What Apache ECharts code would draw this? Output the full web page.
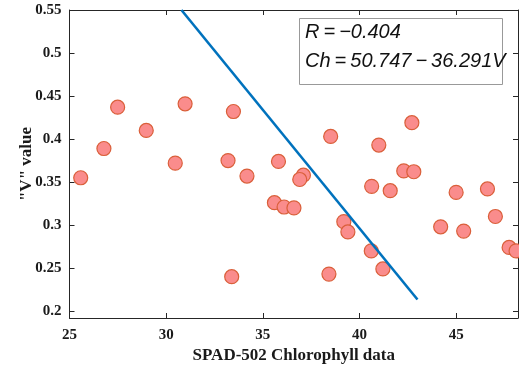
<!DOCTYPE html>
<html>
<head>
<meta charset="utf-8">
<script src="https://cdn.jsdelivr.net/npm/echarts@6/dist/echarts.min.js"></script>
<style>
html,body{margin:0;padding:0;background:#fff;}
#chart{width:519px;height:369px;}
</style>
</head>
<body>
<div id="chart"></div>
<script>
// SPAD-502 chlorophyll readings (x) and "V" values (y)
var chlorophyll = [25.58, 26.78, 27.49, 28.97, 30.98, 30.47,
  33.48, 33.20, 34.18, 35.81, 38.51, 37.10, 36.91,
  42.71, 41.00, 42.29, 42.81, 40.63, 41.59, 45.00, 46.62,
  35.60, 36.10, 36.61, 33.39, 38.42, 39.19, 39.40,
  40.61, 41.21, 44.20, 45.39, 47.03, 47.74, 48.10];
var vValue = [0.355, 0.389, 0.437, 0.410, 0.441, 0.372,
  0.432, 0.375, 0.357, 0.374, 0.403, 0.358, 0.353,
  0.419, 0.393, 0.363, 0.362, 0.345, 0.340, 0.338, 0.342,
  0.326, 0.321, 0.320, 0.240, 0.243, 0.304, 0.292,
  0.270, 0.249, 0.298, 0.293, 0.310, 0.274, 0.270];
// Fitted line Ch = 50.747 - 36.291V, drawn between these end points
var fitX = [30.79, 43.0];
var fitY = [0.55, 0.2135];
var xTicks = [25, 30, 35, 40, 45];
var yTicks = [0.2, 0.25, 0.3, 0.35, 0.4, 0.45, 0.5, 0.55];
var statsLines = ['R\u2009=\u2009\u22120.404', 'Ch\u2009=\u200950.747\u2009\u2212\u200936.291V'];

var points = chlorophyll.map(function (x, i) { return [x, vValue[i]]; });
var fitLine = fitX.map(function (x, i) { return [x, fitY[i]]; });

var axisColor = '#262626';
var labelFont = {fontFamily: 'Liberation Serif', fontWeight: 'bold', fontSize: 15, color: '#1a1a1a'};

var chart = echarts.init(document.getElementById('chart'));
chart.setOption({
  animation: false,
  backgroundColor: '#fff',
  grid: {left: 69.5, right: 1, top: 10, bottom: 49},
  xAxis: [{
    type: 'value', min: 25, max: 48.2, position: 'bottom',
    axisLine: {show: true, lineStyle: {color: axisColor, width: 1}},
    axisTick: {show: true, inside: true, length: 5, customValues: xTicks, lineStyle: {color: axisColor}},
    axisLabel: Object.assign({customValues: xTicks, margin: 10}, labelFont),
    splitLine: {show: false},
    name: 'SPAD-502 Chlorophyll data', nameLocation: 'middle', nameGap: 29, nameMoveOverlap: false,
    nameTextStyle: {fontFamily: 'Liberation Serif', fontWeight: 'bold', fontSize: 17, color: '#1a1a1a'}
  }, {
    type: 'value', min: 25, max: 48.2, position: 'top',
    axisLine: {show: true, lineStyle: {color: axisColor, width: 1}},
    axisTick: {show: true, inside: true, length: 5, customValues: xTicks, lineStyle: {color: axisColor}},
    axisLabel: {show: false}, splitLine: {show: false}
  }],
  yAxis: [{
    type: 'value', min: 0.192, max: 0.55, position: 'left',
    axisLine: {show: true, lineStyle: {color: axisColor, width: 1}},
    axisTick: {show: true, inside: true, length: 5, customValues: yTicks, lineStyle: {color: axisColor}},
    axisLabel: Object.assign({customValues: yTicks, margin: 8}, labelFont),
    splitLine: {show: false},
    name: '"V" value', nameLocation: 'middle', nameGap: 34, nameMoveOverlap: false,
    nameTextStyle: {fontFamily: 'Liberation Serif', fontWeight: 'bold', fontSize: 17, color: '#1a1a1a'}
  }, {
    type: 'value', min: 0.192, max: 0.55, position: 'right',
    axisLine: {show: true, lineStyle: {color: axisColor, width: 1}},
    axisTick: {show: true, inside: true, length: 5, customValues: yTicks, lineStyle: {color: axisColor}},
    axisLabel: {show: false}, splitLine: {show: false}
  }],
  series: [{
    type: 'scatter', data: points, symbol: 'circle', symbolSize: 14,
    itemStyle: {color: '#FA8C8C', borderColor: '#DA5F3A', borderWidth: 1.2, opacity: 1},
    z: 3
  }, {
    type: 'line', data: fitLine, symbol: 'none',
    lineStyle: {color: '#0072BD', width: 2.6},
    z: 4
  }],
  graphic: [{
    type: 'rect', left: 299, top: 18, z: 10,
    shape: {width: 203, height: 66},
    style: {fill: '#fff', stroke: '#999', lineWidth: 1}
  }, {
    type: 'text', left: 305, top: 22, z: 11,
    style: {text: statsLines[0], font: 'italic 20px "Liberation Sans"', fill: '#111'}
  }, {
    type: 'text', left: 305, top: 51, z: 11,
    style: {text: statsLines[1], font: 'italic 20px "Liberation Sans"', fill: '#111'}
  }]
});
</script>
</body>
</html>
